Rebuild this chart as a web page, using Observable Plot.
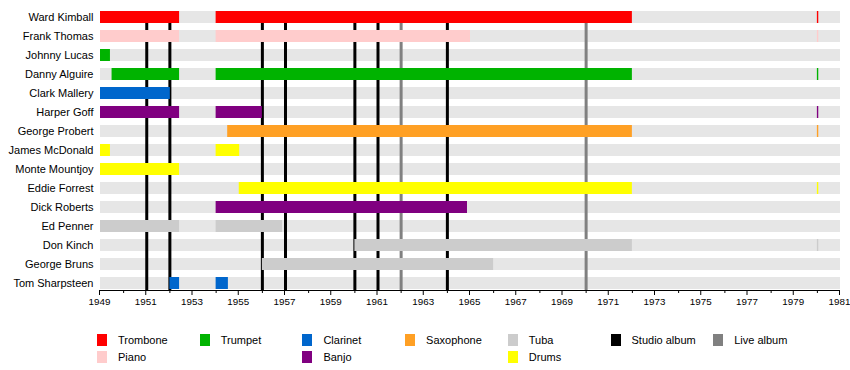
<!DOCTYPE html>
<html>
<head>
<meta charset="utf-8">
<script src="https://cdn.jsdelivr.net/npm/d3@7"></script>
<script src="https://cdn.jsdelivr.net/npm/@observablehq/plot@0.6"></script>
<style>
  body { margin: 0; background: #fff; font-family: "Liberation Sans", Arial, sans-serif; }
  #legend { position: relative; width: 850px; height: 50px; font-size: 11px; color: #000; }
  .item { position: absolute; display: flex; align-items: center; height: 12px; }
  .sw { width: 10px; height: 12px; margin-right: 11px; }
</style>
</head>
<body>
<div id="chart"></div>
<div id="legend"></div>
<script>
// ---- data ----
const members = ["Ward Kimball", "Frank Thomas", "Johnny Lucas", "Danny Alguire", "Clark Mallery",
  "Harper Goff", "George Probert", "James McDonald", "Monte Mountjoy", "Eddie Forrest",
  "Dick Roberts", "Ed Penner", "Don Kinch", "George Bruns", "Tom Sharpsteen"];

const instruments = ["Trombone", "Piano", "Trumpet", "Clarinet", "Banjo", "Saxophone", "Tuba", "Drums"];
const instrumentColors = ["#ff0000", "#ffcccc", "#00b300", "#0066cc", "#800080", "#ffa024", "#cccccc", "#ffff00"];

// [member, instrument, from, till]
const tenures = [
  ["Ward Kimball", "Trombone", 1949, 1952.42], ["Ward Kimball", "Trombone", 1954, 1972], ["Ward Kimball", "Trombone", 1980, 1980.06],
  ["Frank Thomas", "Piano", 1949, 1952.42], ["Frank Thomas", "Piano", 1954, 1965], ["Frank Thomas", "Piano", 1980, 1980.06],
  ["Johnny Lucas", "Trumpet", 1949, 1949.43],
  ["Danny Alguire", "Trumpet", 1949.5, 1952.42], ["Danny Alguire", "Trumpet", 1954, 1972], ["Danny Alguire", "Trumpet", 1980, 1980.06],
  ["Clark Mallery", "Clarinet", 1949, 1952.02],
  ["Harper Goff", "Banjo", 1949, 1952.42], ["Harper Goff", "Banjo", 1954, 1956], ["Harper Goff", "Banjo", 1980, 1980.06],
  ["George Probert", "Saxophone", 1954.5, 1972], ["George Probert", "Saxophone", 1980, 1980.06],
  ["James McDonald", "Drums", 1949, 1949.43], ["James McDonald", "Drums", 1954, 1955.02],
  ["Monte Mountjoy", "Drums", 1949, 1952.42],
  ["Eddie Forrest", "Drums", 1955, 1972], ["Eddie Forrest", "Drums", 1980, 1980.06],
  ["Dick Roberts", "Banjo", 1954, 1964.87],
  ["Ed Penner", "Tuba", 1949, 1952.42], ["Ed Penner", "Tuba", 1954, 1956.87],
  ["Don Kinch", "Tuba", 1960, 1972], ["Don Kinch", "Tuba", 1980, 1980.06],
  ["George Bruns", "Tuba", 1956, 1966],
  ["Tom Sharpsteen", "Clarinet", 1952, 1952.42], ["Tom Sharpsteen", "Clarinet", 1954, 1954.53]
];

const studioAlbums = [1951, 1952, 1956, 1957, 1960, 1961, 1964];
const liveAlbums = [1962, 1970];

const labeledYears = [1949, 1951, 1953, 1955, 1957, 1959, 1961, 1963, 1965, 1967, 1969, 1971, 1973, 1975, 1977, 1979, 1981];
const minorYears = [1950, 1952, 1954, 1956, 1958, 1960, 1962, 1964, 1966, 1968, 1970, 1972, 1974, 1976, 1978, 1980];
const period = [1949, 1981];

// ---- chart ----
const rows = tenures.map(([member, instrument, from, till]) => ({member, instrument, from, till}));

const chart = Plot.plot({
  width: 850,
  height: 320,
  marginLeft: 100,
  marginRight: 10,
  marginTop: 10,
  marginBottom: 30,
  style: {fontFamily: "'Liberation Sans', Arial, sans-serif", fontSize: "11px", color: "#000", background: "#fff"},
  x: {domain: period},
  y: {domain: members, paddingInner: 0.373, paddingOuter: 0},
  color: {domain: instruments, range: instrumentColors},
  marks: [
    Plot.barX(members, {y: d => d, x1: () => period[0], x2: () => period[1], fill: "#e6e6e6"}),
    Plot.ruleX(studioAlbums, {stroke: "#000", strokeWidth: 3, insetTop: 12}),
    Plot.ruleX(liveAlbums, {stroke: "#808080", strokeWidth: 3, insetTop: 12}),
    Plot.barX(rows, {y: "member", x1: "from", x2: "till", fill: "instrument"}),
    Plot.axisY({tickSize: 0, tickPadding: 7, label: null, fontSize: 11}),
    Plot.axisX({ticks: labeledYears, tickSize: 5, tickPadding: 3, tickFormat: d => String(d), label: null, fontSize: 9.8, dx: -1}),
    Plot.axisX({ticks: minorYears, tickSize: 3, tickFormat: () => "", label: null}),
    Plot.ruleY([members[members.length - 1]], {x1: period[0], x2: period[1], dy: 7, stroke: "#000"})
  ]
});
document.getElementById("chart").appendChild(chart);

// ---- legend ----
const legendEntries = instruments.map((name, i) => ({name, color: instrumentColors[i]}))
  .concat([{name: "Studio album", color: "#000"}, {name: "Live album", color: "#808080"}]);
// layout slots [column, row] matching the reference's arrangement
const slots = {
  "Trombone": [0, 0], "Piano": [0, 1], "Trumpet": [1, 0], "Clarinet": [2, 0], "Banjo": [2, 1],
  "Saxophone": [3, 0], "Tuba": [4, 0], "Drums": [4, 1], "Studio album": [5, 0], "Live album": [6, 0]
};
const legend = document.getElementById("legend");
for (const e of legendEntries) {
  const [c, r] = slots[e.name];
  const div = document.createElement("div");
  div.className = "item";
  div.style.left = (97 + c * 102.7) + "px";
  div.style.top = (14 + r * 17) + "px";
  div.innerHTML = `<div class="sw" style="background:${e.color}"></div><span>${e.name}</span>`;
  legend.appendChild(div);
}
</script>
</body>
</html>
